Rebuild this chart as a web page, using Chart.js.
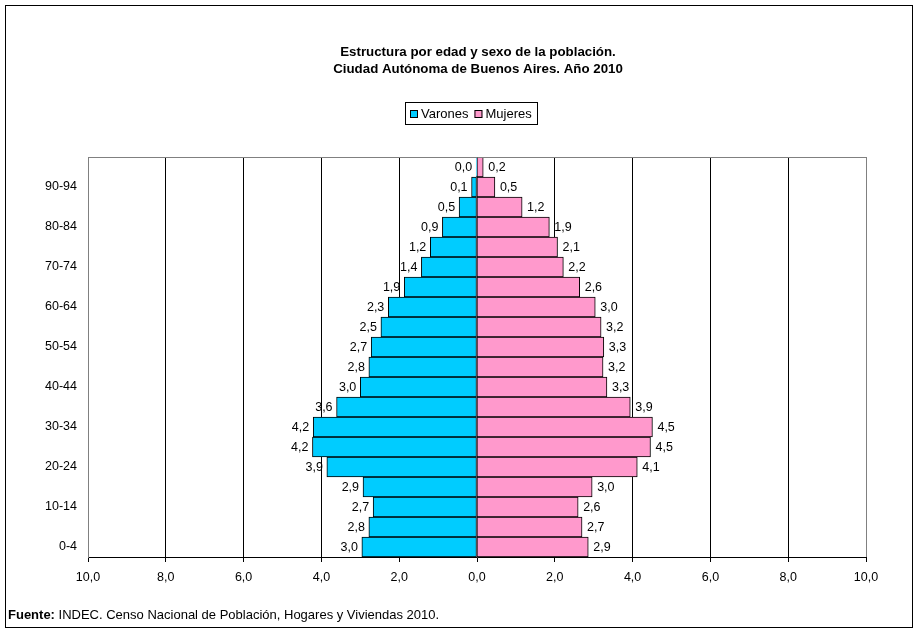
<!DOCTYPE html>
<html>
<head>
<meta charset="utf-8">
<title>Estructura por edad y sexo - CABA 2010</title>
<script src="https://cdn.jsdelivr.net/npm/chart.js@4.4.0/dist/chart.umd.min.js"></script>
<style>
    body { margin: 0; background: #fff; }
    canvas { display: block; }
</style>
</head>
<body>
<canvas id="piramideChart" width="919" height="633"></canvas>
<script>
// Datos (de 0-4 hacia arriba)
var grupos = ['0-4', '5-9', '10-14', '15-19', '20-24', '25-29', '30-34', '35-39', '40-44', '45-49',
              '50-54', '55-59', '60-64', '65-69', '70-74', '75-79', '80-84', '85-89', '90-94', '95+'];
var varones = [2.96, 2.78, 2.67, 2.93, 3.86, 4.23, 4.21, 3.61, 3.00, 2.78,
               2.72, 2.47, 2.28, 1.87, 1.43, 1.20, 0.89, 0.46, 0.14, 0.02];
var mujeres = [2.86, 2.70, 2.60, 2.96, 4.12, 4.46, 4.51, 3.94, 3.34, 3.24,
               3.26, 3.19, 3.04, 2.64, 2.22, 2.07, 1.86, 1.16, 0.46, 0.16];
var ejeX = [-10, -8, -6, -4, -2, 0, 2, 4, 6, 8, 10];

var titulo = ['Estructura por edad y sexo de la población.', 'Ciudad Autónoma de Buenos Aires. Año 2010'];
var fuente = 'INDEC. Censo Nacional de Población, Hogares y Viviendas 2010.';

var colorVarones = '#00CCFF';
var colorMujeres = '#FF99CC';
var fuenteBase = '"Liberation Sans", Arial, sans-serif';

function formato(v) {
    return Math.abs(v).toFixed(1).replace('.', ',');
}

// Etiquetas, titulo, leyenda, borde y fuente
var extrasPlugin = {
    id: 'extras',
    afterDatasetsDraw: function(chart) {
        var ctx = chart.ctx;
        ctx.save();
        ctx.font = '12.5px ' + fuenteBase;
        ctx.fillStyle = '#000';
        ctx.textBaseline = 'middle';
        chart.data.datasets.forEach(function(ds, i) {
            var meta = chart.getDatasetMeta(i);
            meta.data.forEach(function(bar, j) {
                var txt = formato(ds.data[j]);
                if (i === 0) {
                    ctx.textAlign = 'right';
                    ctx.fillText(txt, bar.x - 4, bar.y + 1);
                } else {
                    ctx.textAlign = 'left';
                    ctx.fillText(txt, bar.x + 5, bar.y + 1);
                }
            });
        });

        // borde gris del area de trazado
        var a = chart.chartArea;
        ctx.strokeStyle = '#808080';
        ctx.lineWidth = 1;
        ctx.beginPath();
        ctx.moveTo(Math.round(a.left) + 0.5, Math.round(a.bottom));
        ctx.lineTo(Math.round(a.left) + 0.5, Math.round(a.top) + 0.5);
        ctx.lineTo(Math.round(a.right) + 0.5, Math.round(a.top) + 0.5);
        ctx.lineTo(Math.round(a.right) + 0.5, Math.round(a.bottom));
        ctx.stroke();
        ctx.restore();
    },
    afterDraw: function(chart) {
        var ctx = chart.ctx;
        var a = chart.chartArea;
        var cx = (a.left + a.right) / 2;
        ctx.save();

        // borde exterior
        ctx.strokeStyle = '#000';
        ctx.lineWidth = 1;
        ctx.strokeRect(5.5, 5.5, 907, 622);

        // titulo
        ctx.fillStyle = '#000';
        ctx.textAlign = 'center';
        ctx.textBaseline = 'middle';
        ctx.font = 'bold 13.3px ' + fuenteBase;
        ctx.fillText(titulo[0], cx + 1, 52);
        ctx.fillText(titulo[1], cx + 1, 69);

        // leyenda
        ctx.font = '13px ' + fuenteBase;
        ctx.textAlign = 'left';
        var items = [['Varones', colorVarones], ['Mujeres', colorMujeres]];
        var x = 410;
        var y = 114;
        ctx.strokeStyle = '#000';
        ctx.strokeRect(405.5, 102.5, 132, 22);
        items.forEach(function(it) {
            ctx.fillStyle = it[1];
            ctx.fillRect(x, y - 4, 8, 8);
            ctx.strokeRect(x + 0.5, y - 3.5, 7, 7);
            ctx.fillStyle = '#000';
            ctx.fillText(it[0], x + 11, y);
            x += 11 + ctx.measureText(it[0]).width + 6;
        });

        // fuente
        ctx.textAlign = 'left';
        ctx.font = 'bold 13px ' + fuenteBase;
        ctx.fillText('Fuente:', 8, 615);
        var w = ctx.measureText('Fuente: ').width;
        ctx.font = '13px ' + fuenteBase;
        ctx.fillText(fuente, 8 + w, 615);
        ctx.restore();
    }
};

var ctx1 = document.getElementById('piramideChart').getContext('2d');
var piramideChart = new Chart(ctx1, {
    type: 'bar',
    data: {
        labels: grupos,
        datasets: [{
            label: 'Varones',
            data: varones.map(function(v) { return -v; }),
            backgroundColor: colorVarones,
            borderColor: '#000',
            borderWidth: 1,
            borderSkipped: false,
            barPercentage: 1,
            categoryPercentage: 1
        }, {
            label: 'Mujeres',
            data: mujeres,
            backgroundColor: colorMujeres,
            borderColor: '#000',
            borderWidth: 1,
            borderSkipped: 'left',
            barPercentage: 1,
            categoryPercentage: 1
        }]
    },
    options: {
        indexAxis: 'y',
        responsive: false,
        animation: false,
        devicePixelRatio: 1,
        layout: {
            padding: { left: 0, right: 53, top: 157, bottom: 46 }
        },
        plugins: {
            legend: { display: false },
            title: { display: false },
            tooltip: { enabled: false }
        },
        scales: {
            x: {
                stacked: true,
                min: ejeX[0],
                max: ejeX[ejeX.length - 1],
                afterBuildTicks: function(scale) {
                    scale.ticks = ejeX.map(function(v) { return { value: v }; });
                },
                afterFit: function(scale) { scale.height = 30; },
                grid: {
                    color: function(c) {
                        var v = c.tick ? c.tick.value : 0;
                        return Math.abs(v) === 10 ? '#808080' : '#000';
                    },
                    tickColor: '#000',
                    tickLength: 5,
                    lineWidth: 1
                },
                border: { color: '#000', width: 1 },
                ticks: {
                    color: '#000',
                    padding: 8,
                    maxRotation: 0,
                    font: { family: fuenteBase, size: 12.5 },
                    callback: function(value) { return formato(value); }
                }
            },
            y: {
                stacked: true,
                reverse: true,
                afterFit: function(scale) { scale.width = 88; },
                grid: { display: false, drawTicks: false },
                border: { color: '#808080', width: 1 },
                ticks: {
                    color: '#000',
                    padding: 11,
                    autoSkip: false,
                    font: { family: fuenteBase, size: 12.5 },
                    callback: function(value) {
                        return value % 2 === 0 ? this.getLabelForValue(value) : '';
                    }
                }
            }
        }
    },
    plugins: [extrasPlugin]
});
</script>
</body>
</html>
